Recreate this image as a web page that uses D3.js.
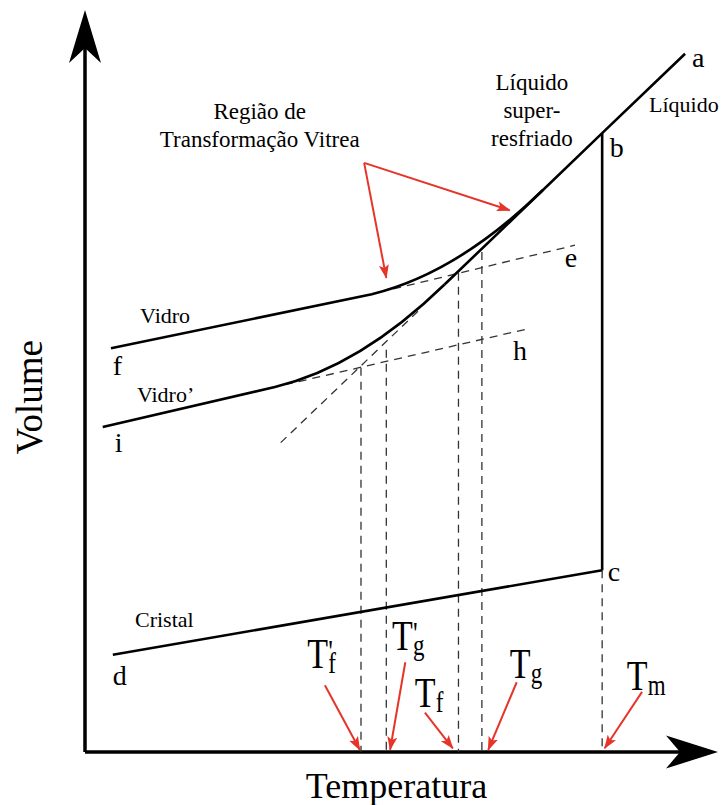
<!DOCTYPE html>
<html>
<head>
<meta charset="utf-8">
<script src="https://cdn.jsdelivr.net/npm/d3@7"></script>
<style>
  body { margin: 0; background: #fff; }
  svg { display: block; font-family: "Liberation Serif", "Times New Roman", serif; }
</style>
</head>
<body>
<div id="chart"></div>
<script>
// Every value below is in (temperatura, volume) units, both axes 0..100
const liquidLine = [[94.8, 94.1], [81.7, 83.4], [56.8, 63.0]];   // a -> b -> supercooled liquid
const meltDrop = [[81.7, 83.4], [81.7, 24.5]];                    // b -> c
const crystalLine = [[4.4, 13.1], [81.7, 24.5]];                  // d -> c

// glass branches: [start, end of straight part, bend control, join on liquid line]
const glassFast = [[4.1, 54.4], [45.3, 61.7], [58.8, 64.5], [72.3, 75.7]];
const glassSlow = [[2.8, 43.8], [30.0, 49.2], [43.4, 51.9], [56.8, 63.0]];

// dashed extrapolations
const extE = [[48.7, 62.4], [77.4, 68.3]];
const extH = [[31.6, 49.5], [69.8, 57.0]];
const extLiquid = [[52.6, 59.4], [30.8, 41.6]];

// characteristic temperatures
const tempSubs = ['f', 'g', 'f', 'g', 'm'];
const tempPrimes = [true, true, false, false, false];
const tempValues = [43.6, 47.6, 59.0, 62.7, 81.7];
const tempTops = [51.8, 54.2, 64.6, 67.4, 24.5];
const tempLabelAt = [[35.1, 11.3], [48.5, 13.7], [52.1, 6.1], [67.1, 10.0], [85.6, 8.4]];
const tempArrowFrom = [[37.9, 9.0], [50.6, 12.1], [53.7, 5.3], [68.2, 9.4], [88.0, 8.1]];
const tempArrowTo = [[43.4, 0.3], [48.2, 0.3], [58.1, 0.5], [63.7, 0.3], [82.1, 0.5]];

// "Região de Transformação Vitrea" callout
const regionFrom = [44.1, 79.4];
const regionTo = [[47.6, 63.9], [67.1, 73.0]];

// point letters
const pointNames = ['a', 'b', 'c', 'd', 'e', 'f', 'h', 'i'];
const pointAt = [[95.9, 92.3], [82.9, 80.2], [82.6, 23.0], [4.4, 9.0], [75.8, 65.4], [4.4, 50.8], [67.6, 52.8], [4.7, 40.4]];

// phase names
const phaseText = ['Vidro', 'Vidro\u2019', 'Cristal', 'Líquido'];
const phaseAt = [[8.7, 57.8], [8.2, 47.2], [7.9, 16.8], [89.1, 86.3]];
const centeredText = [['Líquido', 'super-', 'resfriado'], ['Região de', 'Transformação Vitrea']];
const centeredAt = [[70.6, 89.2], [27.6, 85.3]];

const width = 725, height = 805;
const red = '#e5352a';

const x = d3.scaleLinear().domain([0, 100]).range([85, 718]);
const y = d3.scaleLinear().domain([0, 100]).range([752, 10]);

const svg = d3.select('#chart').append('svg')
    .attr('width', width)
    .attr('height', height);

svg.append('defs').append('marker')
    .attr('id', 'redHead')
    .attr('markerUnits', 'userSpaceOnUse')
    .attr('viewBox', '0 -6 14 12')
    .attr('refX', 13).attr('refY', 0)
    .attr('markerWidth', 14).attr('markerHeight', 12)
    .attr('orient', 'auto')
  .append('path')
    .attr('d', 'M0,-5L14,0L0,5L3,0Z')
    .attr('fill', red);

const line = d3.line().x(d => x(d[0])).y(d => y(d[1]));

// Axes with arrow heads
let x0 = x(0), y0 = y(0), xTip = x(100), yTip = y(100);
svg.append('path')
    .attr('d', `M${x0},${y0}L${x0},${yTip + 38}M${x0},${y0}L${xTip - 38},${y0}`)
    .attr('stroke', '#000').attr('stroke-width', 3.5).attr('fill', 'none');
svg.append('path')
    .attr('d', `M${x0},${yTip}L${x0 - 16},${yTip + 53}L${x0},${yTip + 38}L${x0 + 16},${yTip + 53}Z`)
    .attr('fill', '#000');
svg.append('path')
    .attr('d', `M${xTip},${y0}L${xTip - 52},${y0 - 16.5}L${xTip - 38},${y0}L${xTip - 52},${y0 + 16.5}Z`)
    .attr('fill', '#000');

// Dashed construction lines
let dashed = svg.append('g')
    .attr('stroke', '#333').attr('stroke-width', 1.3)
    .attr('stroke-dasharray', '8,6').attr('fill', 'none');
[extE, extH, extLiquid].forEach(seg => dashed.append('path').attr('d', line(seg)));
tempValues.forEach((t, i) => {
    dashed.append('path').attr('d', line([[t, tempTops[i]], [t, 0]]));
});

// Solid curves
let solid = svg.append('g')
    .attr('stroke', '#000').attr('stroke-width', 2.6)
    .attr('fill', 'none').attr('stroke-linejoin', 'round');
[liquidLine, meltDrop, crystalLine].forEach(seg => solid.append('path').attr('d', line(seg)));
[glassFast, glassSlow].forEach(g => {
    let p = d3.path();
    p.moveTo(x(g[0][0]), y(g[0][1]));
    p.lineTo(x(g[1][0]), y(g[1][1]));
    p.quadraticCurveTo(x(g[2][0]), y(g[2][1]), x(g[3][0]), y(g[3][1]));
    solid.append('path').attr('d', p.toString());
});

// Red arrows
let arrows = svg.append('g')
    .attr('stroke', red).attr('stroke-width', 2).attr('fill', 'none');
regionTo.forEach(to => {
    arrows.append('path').attr('d', line([regionFrom, to])).attr('marker-end', 'url(#redHead)');
});
tempArrowFrom.forEach((from, i) => {
    arrows.append('path').attr('d', line([from, tempArrowTo[i]])).attr('marker-end', 'url(#redHead)');
});

// Point letters
svg.append('g').selectAll('text')
    .data(pointNames)
    .join('text')
    .attr('x', (d, i) => x(pointAt[i][0]))
    .attr('y', (d, i) => y(pointAt[i][1]))
    .attr('font-size', 28)
    .text(d => d);

// Phase names
svg.append('g').selectAll('text')
    .data(phaseText)
    .join('text')
    .attr('x', (d, i) => x(phaseAt[i][0]))
    .attr('y', (d, i) => y(phaseAt[i][1]))
    .attr('font-size', 22)
    .text(d => d);

centeredText.forEach((lines, i) => {
    let t = svg.append('text')
        .attr('text-anchor', 'middle')
        .attr('font-size', 23)
        .attr('x', x(centeredAt[i][0]))
        .attr('y', y(centeredAt[i][1]));
    lines.forEach((s, j) => {
        t.append('tspan')
            .attr('x', x(centeredAt[i][0]))
            .attr('dy', j === 0 ? 0 : 28)
            .text(s);
    });
});

// Temperature labels: T with subscript and optional prime, one text each
tempSubs.forEach((sub, i) => {
    let t = svg.append('text')
        .attr('transform', `translate(${x(tempLabelAt[i][0])},${y(tempLabelAt[i][1])}) scale(1,1.25)`);
    t.append('tspan').attr('font-size', 34).text('T');
    if (tempPrimes[i]) {
        t.append('tspan').attr('font-size', 26).attr('x', 21).attr('y', -5).text("'");
    }
    t.append('tspan').attr('font-size', 23).attr('x', 21).attr('y', 4).text(sub);
});

// Axis titles
svg.append('text')
    .attr('text-anchor', 'middle')
    .attr('font-size', 36)
    .attr('x', x(49.2))
    .attr('y', y(0) + 46)
    .text('Temperatura');

svg.append('text')
    .attr('text-anchor', 'middle')
    .attr('font-size', 37)
    .attr('transform', `translate(${x(0) - 43},${y(47.8)}) rotate(-90)`)
    .text('Volume');
</script>
</body>
</html>
